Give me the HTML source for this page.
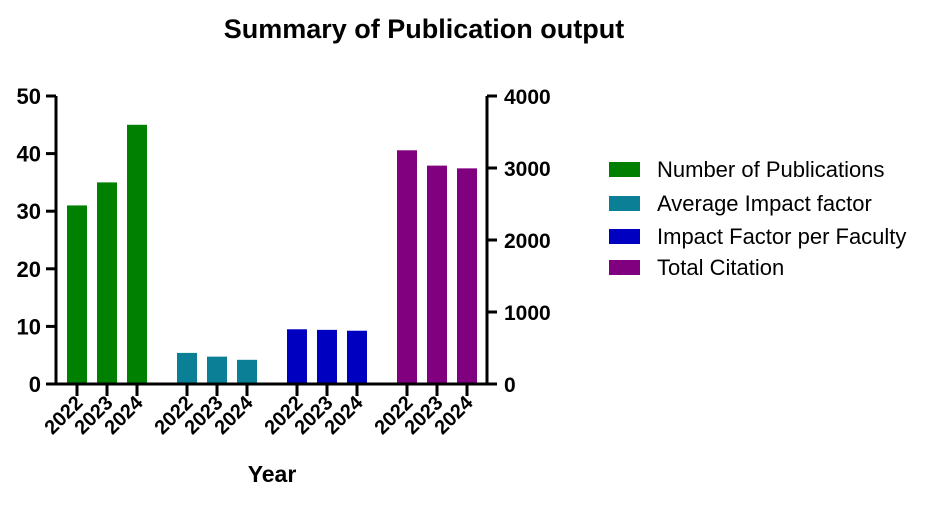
<!DOCTYPE html>
<html><head><meta charset="utf-8"><style>
body{margin:0;background:#fff;}
svg{display:block;font-family:"Liberation Sans",Arial,sans-serif;}
</style></head><body>
<svg id="chart" width="950" height="509" viewBox="0 0 950 509">
<text x="424" y="38" text-anchor="middle" font-size="27" font-weight="bold">Summary of Publication output</text>
<g id="plot"></g>
<text x="272" y="482" text-anchor="middle" font-size="23" font-weight="bold">Year</text>
<g id="legend"></g>
</svg>
<script>
const groups = ["Number of Publications","Average Impact factor","Impact Factor per Faculty","Total Citation"];
const colors = ["#008000","#0a7f96","#0000c0","#800080"];
const years = ["2022","2023","2024"];
const pubValues = [31, 35, 45];
const avgIFValues = [5.4, 4.75, 4.2];
const ifPerFacultyValues = [9.5, 9.4, 9.25];
const citationValues = [3246, 3033, 2995];
const leftTicks = [0,10,20,30,40,50];
const rightTicks = [0,1000,2000,3000,4000];

const NS="http://www.w3.org/2000/svg";
const plot=document.getElementById('plot');
const y0=384, y1=96, xL=56, xR=487;
const yLeft=v=>y0-(v/50)*(y0-y1);
const yRight=v=>y0-(v/4000)*(y0-y1);
const groupStart=[77,187,297,407], step=30, barW=20;
const series=[pubValues,avgIFValues,ifPerFacultyValues,citationValues];
function mk(tag,attrs){const e=document.createElementNS(NS,tag);for(const k in attrs)e.setAttribute(k,attrs[k]);return e;}
series.forEach((vals,g)=>{
  const scale=g===3?yRight:yLeft;
  vals.forEach((v,i)=>{
    const cx=groupStart[g]+i*step;
    const r=mk('rect',{x:cx-barW/2,y:scale(v),width:barW,height:y0-scale(v),fill:colors[g]});
    
    
    plot.appendChild(r);
    const t=mk('line',{x1:cx,x2:cx,y1:y0,y2:y0+12,stroke:'#000','stroke-width':3});
    
    
    plot.appendChild(t);
    const lb=mk('text',{x:cx+7,y:y0+20,'text-anchor':'end','font-size':20,'font-weight':'bold',transform:`rotate(-45 ${cx+7} ${y0+20})`});
    lb.textContent=years[i];
    
    
    plot.appendChild(lb);
  });
});
[[xL,xL,y1,y0],[xR,xR,y1,y0],[xL-10,xR,y0,y0]].forEach(a=>{
  const l=mk('line',{x1:a[0],x2:a[1],y1:a[2],y2:a[3],stroke:'#000','stroke-width':3});
  
  
  plot.appendChild(l);
});
leftTicks.forEach(v=>{
  const y=yLeft(v);
  const l=mk('line',{x1:xL-10,x2:xL,y1:y,y2:y,stroke:'#000','stroke-width':3});
  
  
  plot.appendChild(l);
  const t=mk('text',{x:xL-15,y:y+8,'text-anchor':'end','font-size':22,'font-weight':'bold'});
  t.textContent=v;
  
  
  plot.appendChild(t);
});
rightTicks.forEach(v=>{
  const y=yRight(v);
  const l=mk('line',{x1:xR,x2:xR+10,y1:y,y2:y,stroke:'#000','stroke-width':3});
  
  
  plot.appendChild(l);
  const t=mk('text',{x:xR+17,y:y+8,'font-size':21,'font-weight':'bold'});
  t.textContent=v;
  
  
  plot.appendChild(t);
});
const leg=document.getElementById('legend');
const legY=[169,203,236,267];
groups.forEach((g,i)=>{
  const r=mk('rect',{x:609,y:legY[i]-7,width:31,height:15,fill:colors[i]});
  
  
  leg.appendChild(r);
  const t=mk('text',{x:657,y:legY[i]+8,'font-size':22});
  t.textContent=g;
  
  
  leg.appendChild(t);
});
</script>
</body></html>
